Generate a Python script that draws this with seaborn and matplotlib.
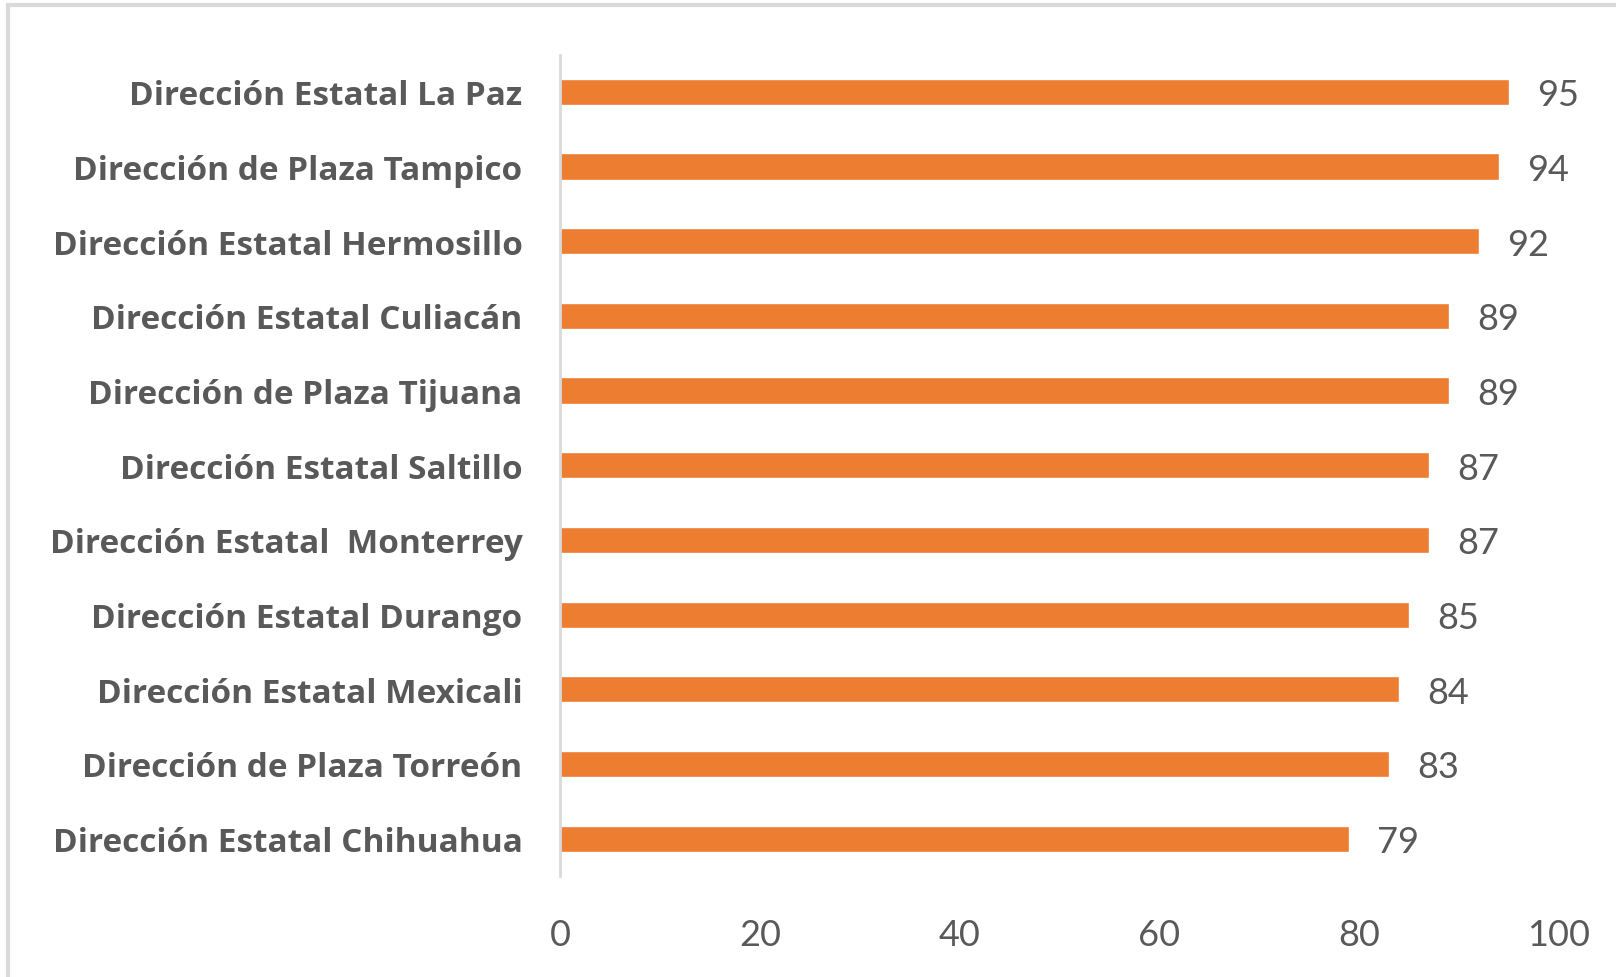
import matplotlib
matplotlib.use("Agg")
import matplotlib.pyplot as plt
import seaborn as sns
import pandas as pd

oficinas = [
    "Dirección Estatal La Paz",
    "Dirección de Plaza Tampico",
    "Dirección Estatal Hermosillo",
    "Dirección Estatal Culiacán",
    "Dirección de Plaza Tijuana",
    "Dirección Estatal Saltillo",
    "Dirección Estatal  Monterrey",
    "Dirección Estatal Durango",
    "Dirección Estatal Mexicali",
    "Dirección de Plaza Torreón",
    "Dirección Estatal Chihuahua",
]
puntaje = [95, 94, 92, 89, 89, 87, 87, 85, 84, 83, 79]
ticks_x = [0, 20, 40, 60, 80, 100]

df = pd.DataFrame({"oficina": oficinas, "puntaje": puntaje})

sns.set_theme(style="white")
plt.rcParams["font.family"] = ["Lato", "DejaVu Sans"]

TXT = "#595959"
fig = plt.figure(figsize=(16.16, 9.78), dpi=100)
fig.patch.set_facecolor("white")

# thin frame around the chart area (top and left edges visible)
frame = plt.Rectangle((8 / 1616, -0.05), 1.1, 1 - 6 / 978 + 0.05,
                      transform=fig.transFigure, fill=False,
                      edgecolor="#d9d9d9", linewidth=3, zorder=0)
fig.add_artist(frame)

top_px, bot_px = 55.5, 877.0
ax = fig.add_axes([560 / 1616, 1 - bot_px / 978, (1559 - 560) / 1616, (bot_px - top_px) / 978])
sns.barplot(data=df, y="oficina", x="puntaje", orient="h", color="#ED7D31",
            saturation=1, width=0.35, ax=ax)

ax.set_xlim(0, 100)
ax.set_ylim(len(oficinas) - 0.5, -0.5)
ax.set_xticks(ticks_x)
ax.set_xticklabels([str(t) for t in ticks_x], fontsize=26, color=TXT)
ax.set_xlabel("")
ax.set_ylabel("")
for lbl in ax.get_yticklabels():
    lbl.set_fontfamily(["Open Sans", "DejaVu Sans"])
    lbl.set_fontsize(24)
    lbl.set_fontweight("bold")
    lbl.set_color(TXT)
ax.tick_params(axis="y", length=0, pad=27)
ax.tick_params(axis="x", length=0, pad=30)

for s in ["top", "right", "bottom"]:
    ax.spines[s].set_visible(False)
ax.spines["left"].set_color("#d9d9d9")
ax.spines["left"].set_linewidth(2)

for cont in ax.containers:
    anns = ax.bar_label(cont, labels=[str(v) for v in puntaje], padding=20,
                        fontsize=26, color=TXT)
    for a in anns:
        a.set_va("center_baseline")

fig.savefig("out.png", dpi=100, facecolor="white")
